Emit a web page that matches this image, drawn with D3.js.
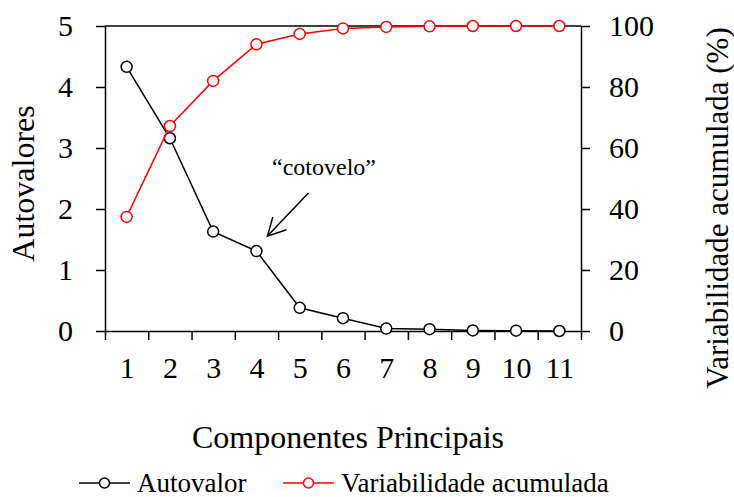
<!DOCTYPE html>
<html>
<head>
  <meta charset="utf-8">
  <script src="https://d3js.org/d3.v7.min.js"></script>
  <style type="text/css">
  body { margin: 0; background: #fff; }
  svg { display: block; }
  svg text { font-family: "Liberation Serif", "Times New Roman", serif; fill: #000; }
  .axis path, .axis line { stroke: #000; stroke-width: 1.5; }
  .axis text { font-size: 30px; }
  </style>
</head>
<body>
<script type="text/javascript">
  // componentes principais
  var componentes = [1, 2, 3, 4, 5, 6, 7, 8, 9, 10, 11];
  var autovalor = [4.33, 3.16, 1.63, 1.31, 0.38, 0.21, 0.04, 0.03, 0.01, 0.005, 0.0];
  var variabilidade = [37.4, 67.2, 82.0, 94.0, 97.4, 99.2, 99.7, 99.9, 100, 100, 100];
  var ticksEsq = [0, 1, 2, 3, 4, 5];
  var ticksDir = [0, 20, 40, 60, 80, 100];

  var width = 734, height = 497;
  var mLeft = 105, mRight = 581, mTop = 26, mBottom = 331;

  var svg = d3.select("body").append("svg")
    .attr("width", width)
    .attr("height", height);

  var x = d3.scaleLinear().domain([0.5, 11.5]).range([mLeft, mRight]);
  var y = d3.scaleLinear().domain([0, 5]).range([mBottom, mTop]);
  var y2 = d3.scaleLinear().domain([0, 100]).range([mBottom, mTop]);

  // top border
  svg.append("line")
    .attr("x1", mLeft).attr("x2", mRight)
    .attr("y1", mTop).attr("y2", mTop)
    .attr("stroke", "#000").attr("stroke-width", 1.5);

  // x axis: ticks at boundaries, labels at centers
  var boundaries = componentes.map(function(d) { return d - 0.5; }).concat([11.5]);
  svg.append("g")
    .attr("class", "axis")
    .attr("transform", "translate(0," + mBottom + ")")
    .call(d3.axisBottom(x).tickValues(boundaries).tickSize(9).tickSizeOuter(0).tickFormat(""));

  var xl = svg.append("g")
    .attr("class", "axis")
    .attr("transform", "translate(0," + mBottom + ")")
    .call(d3.axisBottom(x).tickValues(componentes).tickSize(0).tickFormat(d3.format("d")));
  xl.select(".domain").remove();
  xl.selectAll("text").attr("y", 47).attr("dy", 0);

  // left axis
  svg.append("g")
    .attr("class", "axis")
    .attr("transform", "translate(" + mLeft + ",0)")
    .call(d3.axisLeft(y).tickValues(ticksEsq).tickFormat(d3.format("d"))
      .tickSize(9).tickSizeOuter(0).tickPadding(23));

  // right axis
  svg.append("g")
    .attr("class", "axis")
    .attr("transform", "translate(" + mRight + ",0)")
    .call(d3.axisRight(y2).tickValues(ticksDir).tickFormat(d3.format("d"))
      .tickSize(9).tickSizeOuter(0).tickPadding(19));

  // titles
  svg.append("text")
    .attr("transform", "translate(34," + ((mTop + mBottom) / 2 + 5) + ") rotate(-90)")
    .attr("text-anchor", "middle")
    .style("font-size", "32px")
    .text("Autovalores");

  svg.append("text")
    .attr("transform", "translate(728," + 208 + ") rotate(-90)")
    .attr("text-anchor", "middle")
    .style("font-size", "31px")
    .text("Variabilidade acumulada (%)");

  svg.append("text")
    .attr("x", 348)
    .attr("y", 448)
    .attr("text-anchor", "middle")
    .style("font-size", "32px")
    .text("Componentes Principais");

  // series
  var series = [
    { nome: "Autovalor", valores: autovalor, escala: y, cor: "#000" },
    { nome: "Variabilidade acumulada", valores: variabilidade, escala: y2, cor: "#ff0000" }
  ];

  series.forEach(function(s) {
    var line = d3.line()
      .x(function(d, i) { return x(componentes[i]); })
      .y(function(d) { return s.escala(d); });

    svg.append("path")
      .datum(s.valores)
      .attr("d", line)
      .attr("fill", "none")
      .attr("stroke", s.cor)
      .attr("stroke-width", 1.5);

    svg.selectAll(null)
      .data(s.valores)
      .enter().append("circle")
      .attr("cx", function(d, i) { return x(componentes[i]); })
      .attr("cy", function(d) { return s.escala(d); })
      .attr("r", 5.5)
      .attr("fill", "#fff")
      .attr("stroke", s.cor)
      .attr("stroke-width", 1.5);
  });

  // "cotovelo" annotation
  var tipX = x(4) + 11, tipY = y(autovalor[3]) - 15;
  var startX = tipX + 41, startY = tipY - 43;
  svg.append("text")
    .attr("x", 324)
    .attr("y", 175)
    .attr("text-anchor", "middle")
    .style("font-size", "24px")
    .text("\u201Ccotovelo\u201D");

  var ang = Math.atan2(startY - tipY, startX - tipX);
  var head = 20, spread = 28 * Math.PI / 180;
  svg.append("path")
    .attr("d", "M" + startX + "," + startY + "L" + tipX + "," + tipY +
      "M" + (tipX + head * Math.cos(ang - spread)) + "," + (tipY + head * Math.sin(ang - spread)) +
      "L" + tipX + "," + tipY +
      "L" + (tipX + head * Math.cos(ang + spread)) + "," + (tipY + head * Math.sin(ang + spread)))
    .attr("fill", "none")
    .attr("stroke", "#000")
    .attr("stroke-width", 1.5);

  // legend
  var legendX = [79, 283];
  var legend = svg.selectAll(".legend")
    .data(series)
    .enter().append("g")
    .attr("class", "legend")
    .attr("transform", function(d, i) { return "translate(" + legendX[i] + ",483)"; });

  legend.append("line")
    .attr("x1", 0).attr("x2", 51)
    .attr("stroke", function(d) { return d.cor; })
    .attr("stroke-width", 1.5);

  legend.append("circle")
    .attr("cx", 25.5)
    .attr("r", 5)
    .attr("fill", "#fff")
    .attr("stroke", function(d) { return d.cor; })
    .attr("stroke-width", 1.5);

  legend.append("text")
    .attr("x", 58)
    .attr("y", 9)
    .style("font-size", "27px")
    .text(function(d) { return d.nome; });
</script>
</body>
</html>
